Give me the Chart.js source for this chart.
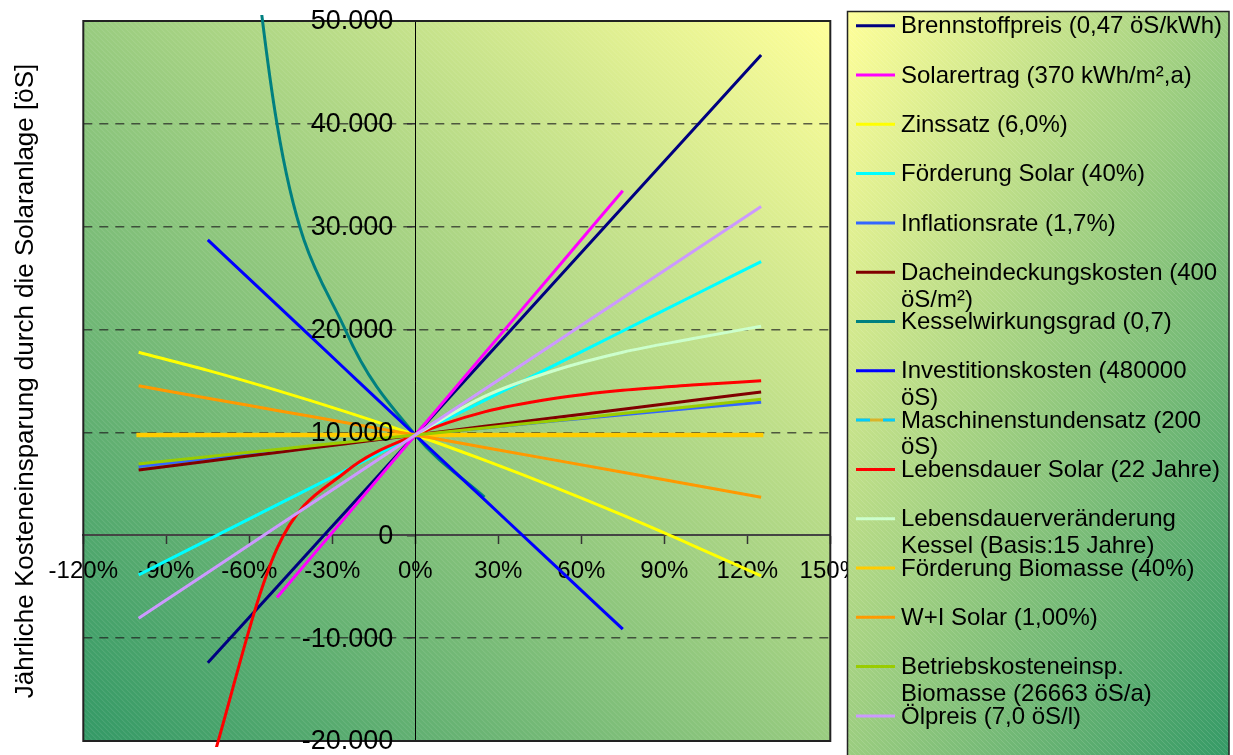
<!DOCTYPE html>
<html>
<head>
<meta charset="utf-8">
<script src="https://cdn.jsdelivr.net/npm/chart.js@4.4.1/dist/chart.umd.min.js"></script>
<style>
  html, body { margin: 0; padding: 0; background: #ffffff; }
  #wrap { position: relative; width: 1233px; height: 755px; }
</style>
</head>
<body>
<div id="wrap"><canvas id="chart" width="1233" height="755"></canvas></div>
<script>
// Sensitivity of the annual cost saving to a change of each input parameter
const FONT = '"Liberation Sans", Arial, Helvetica, sans-serif';

// parameter change in % (x positions of the computed points)
const xSteps = [-100, -75, -50, -25, 0, 25, 50, 75, 100, 125];

// annual saving [öS] per series, one value per x step (null = not computed)
const brennstoffpreis    = [null, -12400, -5030, 2360, 9750, 17140, 24530, 31910, 39300, 46700];
const solarertrag        = [null, null, -6050, 1850, 9750, 17670, 25580, 33500, null, null];
const zinssatz           = [17800, 16030, 14090, 12000, 9750, 7300, 4700, 1950, -950, -3950];
const foerderungSolar    = [-3850, -450, 2950, 6350, 9750, 13120, 16490, 19860, 23240, 26610];
const inflationsrate     = [6680, 7470, 8240, 9000, 9750, 10440, 11100, 11730, 12340, 12940];
const dacheindeckung     = [6350, 7200, 8050, 8900, 9750, 10590, 11430, 12260, 13100, 13940];
const kesselwirkungsgrad = [null, 100500, 40000, 19800, 9750, 3700, null, null, null, null];
const investitionskosten = [null, 28720, 22400, 16070, 9750, 3460, -2830, -9130, null, null];
const maschinenstunden   = [9750, 9750, 9750, 9750, 9750, 9750, 9750, 9750, 9750, 9750];
const lebensdauerSolar   = [null, -23500, -1300, 6200, 9750, 12000, 13300, 14100, 14600, 15030];
const lebensdauerKessel  = [null, null, null, null, 9750, 13500, 16000, 17800, 19100, 20330];
const foerderungBiomasse = [9750, 9750, 9750, 9750, 9750, 9750, 9750, 9750, 9750, 9750];
const wiSolar            = [14530, 13330, 12140, 10940, 9750, 8540, 7330, 6120, 4910, 3700];
const betriebskosten     = [6940, 7640, 8350, 9050, 9750, 10440, 11140, 11830, 12530, 13220];
const oelpreis           = [-8060, -3610, 850, 5300, 9750, 14190, 18630, 23080, 27520, 31960];

const seriesLabels = [
  'Brennstoffpreis (0,47 öS/kWh)',
  'Solarertrag (370 kWh/m²,a)',
  'Zinssatz (6,0%)',
  'Förderung Solar (40%)',
  'Inflationsrate (1,7%)',
  'Dacheindeckungskosten (400 öS/m²)',
  'Kesselwirkungsgrad (0,7)',
  'Investitionskosten (480000 öS)',
  'Maschinenstundensatz (200 öS)',
  'Lebensdauer Solar (22 Jahre)',
  'Lebensdauerveränderung Kessel (Basis:15 Jahre)',
  'Förderung Biomasse (40%)',
  'W+I Solar (1,00%)',
  'Betriebskosteneinsp. Biomasse (26663 öS/a)',
  'Ölpreis (7,0 öS/l)'
];
const seriesValues = [
  brennstoffpreis, solarertrag, zinssatz, foerderungSolar, inflationsrate,
  dacheindeckung, kesselwirkungsgrad, investitionskosten, maschinenstunden,
  lebensdauerSolar, lebensdauerKessel, foerderungBiomasse, wiSolar,
  betriebskosten, oelpreis
];
const seriesColors = [
  '#000080', '#FF00FF', '#FFFF00', '#00FFFF', '#3366FF',
  '#800000', '#008080', '#0000FF', '#00CCFF', '#FF0000',
  '#CCFFCC', '#FFCC00', '#FF9900', '#99CC00', '#CC99FF'
];

const xTickLabels = ['-120%', '-90%', '-60%', '-30%', '0%', '30%', '60%', '90%', '120%', '150%'];
const yTickLabels = ['-20.000', '-10.000', '0', '10.000', '20.000', '30.000', '40.000', '50.000'];
const yTitleText = 'Jährliche Kosteneinsparung durch die Solaranlage [öS]';

// ---------- drawing helpers ----------
function paintPanel(ctx, x, y, w, h, startColor, endColor, fromBottomLeft) {
  ctx.save();
  ctx.beginPath();
  ctx.rect(x, y, w, h);
  ctx.clip();
  ctx.save();
  ctx.translate(x, y);
  ctx.scale(w, h);
  const g = fromBottomLeft ? ctx.createLinearGradient(0, 1, 1, 0) : ctx.createLinearGradient(0, 0, 1, 1);
  g.addColorStop(0, startColor);
  g.addColorStop(1, endColor);
  ctx.fillStyle = g;
  ctx.fillRect(0, 0, 1, 1);
  ctx.restore();
  // fine diagonal texture
  ctx.strokeStyle = 'rgba(255,255,255,0.16)';
  ctx.lineWidth = 0.8;
  ctx.beginPath();
  for (let k = -h; k < w; k += 5) {
    ctx.moveTo(x + k, y);
    ctx.lineTo(x + k + h, y + h);
  }
  ctx.stroke();
  ctx.restore();
}

function wrapLines(ctx, text, maxWidth) {
  const words = text.split(' ');
  const lines = [];
  let cur = '';
  words.forEach(w => {
    const test = cur ? cur + ' ' + w : w;
    if (cur && ctx.measureText(test).width > maxWidth) {
      lines.push(cur);
      cur = w;
    } else {
      cur = test;
    }
  });
  if (cur) lines.push(cur);
  return lines;
}

const plotBackground = {
  id: 'plotBackground',
  beforeDraw(chart) {
    const a = chart.chartArea;
    paintPanel(chart.ctx, a.left, a.top, a.right - a.left, a.bottom - a.top, '#339966', '#FFFF99', true);
  }
};

const plotFrame = {
  id: 'plotFrame',
  beforeDatasetsDraw(chart) {
    const a = chart.chartArea;
    const ctx = chart.ctx;
    ctx.save();
    ctx.strokeStyle = '#222222';
    ctx.lineWidth = 2;
    ctx.strokeRect(a.left, a.top, a.right - a.left, a.bottom - a.top);
    ctx.restore();
  }
};

// value labels of the y axis, placed left of the crossing axis at x = 0
const yTickText = {
  id: 'yTickText',
  afterDatasetsDraw(chart) {
    const ys = chart.scales.y, xs = chart.scales.x;
    const ctx = chart.ctx;
    const xRight = xs.getPixelForValue(0) - ys.options.grid.tickLength - 14;
    ctx.save();
    ctx.font = '27px ' + FONT;
    ctx.textAlign = 'right';
    ctx.textBaseline = 'middle';
    ctx.fillStyle = '#000000';
    ys.ticks.forEach((t, i) => ctx.fillText(yTickLabels[i], xRight, ys.getPixelForValue(t.value) + 1));
    ctx.restore();
  }
};

const sideLegend = {
  id: 'sideLegend',
  afterDraw(chart) {
    const ctx = chart.ctx;
    const bx = 847.5, by = 11.5, bw = 381.5, bh = 760;
    paintPanel(ctx, bx, by, bw, bh, '#FFFF99', '#339966', false);
    ctx.save();
    ctx.strokeStyle = '#222222';
    ctx.lineWidth = 1.5;
    ctx.strokeRect(bx, by, bw, bh);
    ctx.font = '24px ' + FONT;
    ctx.textBaseline = 'middle';
    ctx.textAlign = 'left';
    ctx.fillStyle = '#000000';
    chart.data.datasets.forEach((ds, i) => {
      const yc = 25.7 + i * 49.3;
      ctx.lineWidth = 3;
      ctx.lineCap = 'butt';
      if (ds.borderDash && ds.borderDash.length) {
        ctx.setLineDash([]);
        ctx.strokeStyle = ds.backgroundColor;
        ctx.beginPath(); ctx.moveTo(856, yc); ctx.lineTo(895, yc); ctx.stroke();
        ctx.setLineDash([14, 13]);
      } else {
        ctx.setLineDash([]);
      }
      ctx.strokeStyle = ds.borderColor;
      ctx.beginPath(); ctx.moveTo(856, yc); ctx.lineTo(895, yc); ctx.stroke();
      ctx.setLineDash([]);
      const lines = wrapLines(ctx, ds.label, 325);
      lines.forEach((ln, k) => ctx.fillText(ln, 901, yc + 1 + k * 26.7));
    });
    ctx.restore();
  }
};

// ---------- datasets ----------
const datasets = seriesLabels.map((label, i) => {
  const ds = {
    label,
    data: xSteps.map((x, j) => ({ x, y: seriesValues[i][j] })),
    borderColor: seriesColors[i],
    backgroundColor: seriesColors[i],
    borderWidth: 3,
    pointRadius: 0,
    pointHoverRadius: 0,
    cubicInterpolationMode: 'monotone',
    capBezierPoints: false,
    clip: 6,
    order: seriesLabels.length - i
  };
  if (label.startsWith('Maschinenstundensatz')) {
    ds.borderDash = [14, 13];
    ds.backgroundColor = '#D9B32A';
  }
  if (label.startsWith('Förderung Biomasse')) {
    ds.borderWidth = 4.5;
    ds.borderCapStyle = 'square';
  }
  return ds;
});

Chart.defaults.font.family = FONT;
Chart.defaults.color = '#000000';

function noSpace(scale) {
  if (scale.isHorizontal()) scale.height = 0; else scale.width = 0;
  scale.paddingTop = 0; scale.paddingBottom = 0;
  scale.paddingLeft = 0; scale.paddingRight = 0;
}

new Chart(document.getElementById('chart'), {
  type: 'line',
  data: { datasets },
  plugins: [plotBackground, plotFrame, yTickText, sideLegend],
  options: {
    responsive: false,
    devicePixelRatio: 1,
    animation: false,
    events: [],
    layout: { padding: { left: 0, top: 21, right: 402.7, bottom: 14 } },
    plugins: { legend: { display: false }, tooltip: { enabled: false }, title: { display: false } },
    scales: {
      x: {
        type: 'linear',
        position: { y: 0 },
        min: -120, max: 150,
        afterFit: noSpace,
        grid: { display: true, drawOnChartArea: false, drawTicks: true, tickLength: 8, tickColor: '#333333', tickWidth: 1.5 },
        border: { display: true, color: '#444444', width: 2 },
        ticks: {
          stepSize: 30, autoSkip: false, maxRotation: 0, minRotation: 0, padding: 14,
          font: { size: 24 }, color: '#000000',
          callback: (v, i) => xTickLabels[i]
        }
      },
      y: {
        type: 'linear',
        position: { x: 0 },
        min: -20000, max: 50000,
        afterFit: noSpace,
        grid: {
          display: true, drawOnChartArea: true, drawTicks: true, tickLength: 8,
          lineWidth: 1.5,
          color: (c) => (c.tick && (c.tick.value === 0 || c.tick.value === -20000 || c.tick.value === 50000)) ? 'rgba(0,0,0,0)' : 'rgba(30,30,30,0.7)',
          tickColor: '#333333', tickWidth: 1.5
        },
        border: { display: true, color: '#000000', width: 1, dash: [9, 7] },
        ticks: { stepSize: 10000, autoSkip: false, display: false }
      },
      yTitle: {
        type: 'linear',
        position: 'left',
        min: -20000, max: 50000,
        afterFit(scale) {
          scale.width = 83.3;
          scale.paddingTop = 0; scale.paddingBottom = 0;
        },
        grid: { display: false, drawTicks: false },
        border: { display: false },
        ticks: { display: false },
        title: {
          display: true, text: yTitleText, color: '#000000',
          font: { size: 26 }, padding: { top: 10, bottom: 0 }
        }
      }
    }
  }
});
</script>
</body>
</html>
